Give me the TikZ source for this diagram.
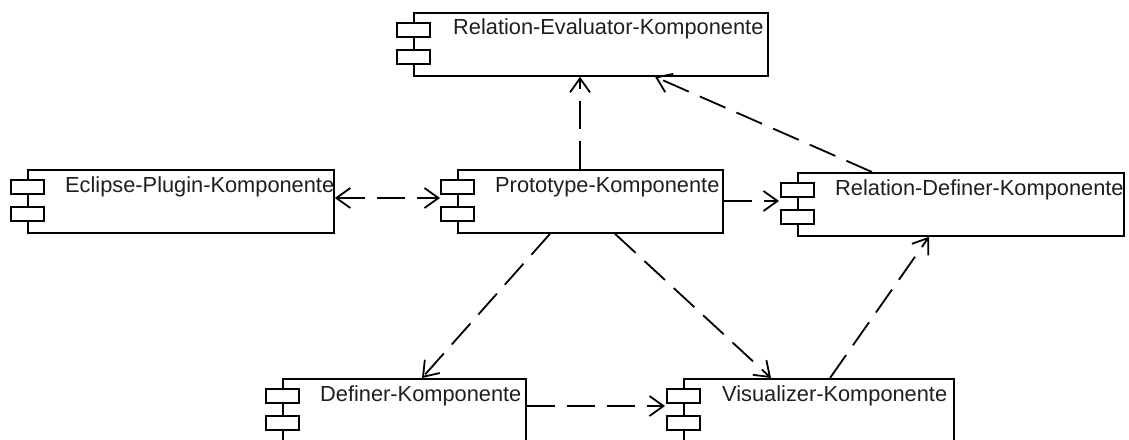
\documentclass[tikz,border=0pt]{standalone}
\usepackage{fontspec}
\setmainfont{Liberation Sans}
\usetikzlibrary{arrows.meta,calc}

\tikzset{
  comp/.style={draw, line width=1.8pt, anchor=north west, minimum height=63pt,
               inner sep=0pt, fill=white},
  icon/.style={draw, line width=1.8pt, fill=white},
  lbl/.style={anchor=base west, inner sep=0pt, text=black!88,
              font=\fontsize{21.8pt}{24pt}\selectfont},
  >={Straight Barb[length=14pt,width=20pt]},
  dep/.style={line width=1.8pt, dash pattern=on 28pt off 12pt, ->},
  bidep/.style={line width=1.8pt, dash pattern=on 28pt off 12pt, <->},
}

% the two small tabs of a UML component symbol on the left edge of a box
\newcommand\comptabs[1]{%
  \draw[icon] ($(#1.north west)+(-16,11)$) rectangle ++(33,14);
  \draw[icon] ($(#1.north west)+(-16,38)$) rectangle ++(33,14);
}

\begin{document}
\begin{tikzpicture}[x=1pt,y=-1pt]
  \useasboundingbox (0,0) rectangle (1129,439);
  \clip (0,0) rectangle (1129,439);

  % component boxes
  \node[comp, minimum width=354pt] (eval)  at (413,12)  {};
  \node[comp, minimum width=306pt] (ecl)   at (27,169)  {};
  \node[comp, minimum width=265pt] (proto) at (457,169) {};
  \node[comp, minimum width=326pt] (rdef)  at (797,172) {};
  \node[comp, minimum width=243pt] (def)   at (282,378) {};
  \node[comp, minimum width=270pt] (vis)   at (683,378) {};

  \comptabs{eval}
  \comptabs{ecl}
  \comptabs{proto}
  \comptabs{rdef}
  \comptabs{def}
  \comptabs{vis}

  % names
  \node[lbl] (evalT)  at ($(eval.north west)+(40,22)$)  {Relation-Evaluator-Komponente};
  \node[lbl] (eclT)   at ($(ecl.north west)+(38,23)$)   {Eclipse-Plugin-Komponente};
  \node[lbl] (protoT) at ($(proto.north west)+(38,23)$) {Prototype-Komponente};
  \node[lbl] (rdefT)  at ($(rdef.north west)+(38,23)$)  {Relation-Definer-Komponente};
  \node[lbl] (defT)   at ($(def.north west)+(38,23)$)   {Definer-Komponente};
  \node[lbl] (visT)   at ($(vis.north west)+(39,23)$)   {Visualizer-Komponente};

  % dependencies
  \draw[dep]   ($(proto.north west)+(123,0)$) -- ($(eval.south west)+(167,0)$);
  \draw[dep]   ($(rdef.north west)+(75,0)$)   -- ($(eval.south west)+(242,0)$);
  \draw[bidep] ($(ecl.north east)+(0,29)$)    -- ($(proto.north west)+(-17,29)$);
  \draw[dep]   ($(proto.north east)+(0,32)$)  -- ($(rdef.north west)+(-18,29)$);
  \draw[dep]   ($(proto.south west)+(93,0)$)  -- ($(def.north west)+(140,0)$);
  \draw[dep]   ($(proto.south west)+(158,0)$) -- ($(vis.north west)+(88,0)$);
  \draw[dep]   ($(vis.north west)+(147,0)$)   -- ($(rdef.south west)+(132,0)$);
  \draw[dep]   ($(def.north east)+(0,28)$)    -- ($(vis.north west)+(-18,28)$);
\end{tikzpicture}
\end{document}
